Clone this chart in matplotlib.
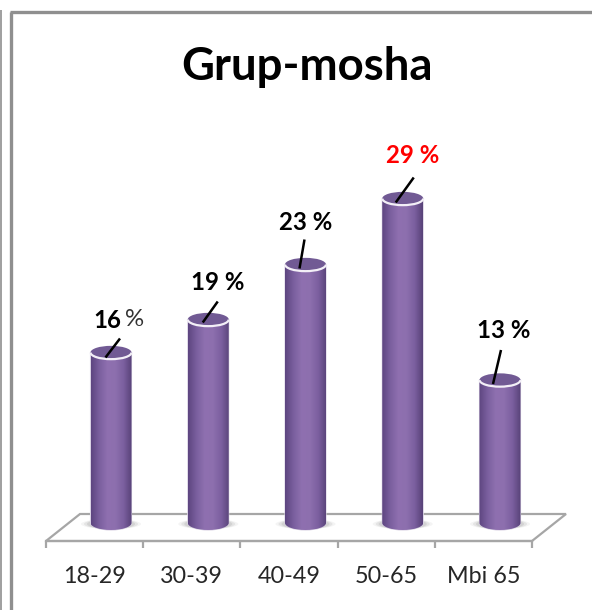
import numpy as np
import matplotlib
matplotlib.use("Agg")
import matplotlib.pyplot as plt
from matplotlib.patches import Ellipse, PathPatch, Polygon, Arc
from matplotlib.path import Path
from matplotlib.colors import LinearSegmentedColormap

title = "Grup-mosha"
categories = ["18-29", "30-39", "40-49", "50-65", "Mbi 65"]
bar_heights = [15.5, 18.5, 23.5, 29.5, 13.0]
label_numbers = ["16", "19", "23", "29", "13"]

W, H = 592, 610
FONT = "Lato"
fig = plt.figure(figsize=(W / 100, H / 100), dpi=100)
ax = fig.add_axes([0, 0, 1, 1])
X0, DX, Y0, DY = 94.5, 97.25, 523.0, 11.0
ax.set_xlim((0 - X0) / DX, (W - X0) / DX)
ax.set_ylim((Y0 - H) / DY, Y0 / DY)
ax.patch.set_alpha(0)

def px(x, y):
    return (x - X0) / DX, (Y0 - y) / DY

# axis: real ticks between categories
for s in ("left", "right", "top"):
    ax.spines[s].set_visible(False)
GREY = "#a6a6a6"
ax.spines["bottom"].set_position(("data", px(0, 541)[1]))
ax.spines["bottom"].set_bounds(-0.5, 4.5)
ax.spines["bottom"].set_color(GREY)
ax.spines["bottom"].set_linewidth(1.6)
ax.set_yticks([])
ax.set_xticks(range(len(categories)))
ax.set_xticklabels(categories, fontsize=16.8, family=FONT, color="#262626")
ax.set_xticks(np.arange(-0.5, 5, 1), minor=True)
ax.tick_params(axis="x", which="major", length=0, pad=18)
ax.tick_params(axis="x", which="minor", length=5, width=1.6, color=GREY)

# floor
floor = [px(46, 541), px(80, 514), px(566, 514), px(532, 541)]
ax.add_patch(Polygon(floor, closed=True, fc="white", ec=GREY, lw=1.6, zorder=1))

# window frame
frame = dict(color="#8f8f8f", solid_capstyle="butt", zorder=1)
ax.plot(*zip(px(10.5, 12), px(10.5, 610)), lw=2.4, **frame)
ax.plot(*zip(px(9.5, 11.5), px(592, 11.5)), lw=2.4, **frame)
ax.plot(*zip(px(0.5, 10), px(0.5, 610)), lw=1.2, **frame)

# cylinders
cmap = LinearSegmentedColormap.from_list(
    "cyl", ["#5d4580", "#7a5f9e", "#8f70b0", "#8d6fae", "#7b5f9f", "#584278"])
grad = np.linspace(0, 1, 128).reshape(1, -1)
offset = 16.5 / DX
hw = 20.5 / DX
eh = 7.0 / DY
KAPPA = 0.5523
for i, h in enumerate(bar_heights):
    c = i + offset
    # soft shadow on the floor
    for k, a in ((30, .08), (27, .12), (24, .16)):
        ax.add_patch(Ellipse((c, px(0, 524)[1]), 2 * k / DX, 10 / DY, fc="#777777",
                             ec="none", alpha=a, zorder=2))
    verts = [(c - hw, h), (c - hw, 0),
             (c - hw, -eh * KAPPA), (c - hw * KAPPA, -eh), (c, -eh),
             (c + hw * KAPPA, -eh), (c + hw, -eh * KAPPA), (c + hw, 0),
             (c + hw, h), (c - hw, h)]
    codes = [Path.MOVETO, Path.LINETO, Path.CURVE4, Path.CURVE4, Path.CURVE4,
             Path.CURVE4, Path.CURVE4, Path.CURVE4, Path.LINETO, Path.CLOSEPOLY]
    body = PathPatch(Path(verts, codes), fc="none", ec="#d9d2e3", lw=0.8, zorder=3)
    ax.add_patch(body)
    im = ax.imshow(grad, cmap=cmap, aspect="auto", zorder=3, interpolation="bilinear",
                   extent=(c - hw, c + hw, -eh - 0.1, h))
    im.set_clip_path(body)
    ax.add_patch(Ellipse((c, h), 2 * hw, 2 * eh * 0.95, fc="#715a94", ec="none", zorder=4))
    ax.add_patch(Arc((c, h), 2 * hw, 2 * eh * 0.95, theta1=180, theta2=360,
                     ec="#f3eff7", lw=1.6, zorder=5))
ax.set_xlim((0 - X0) / DX, (W - X0) / DX)
ax.set_ylim((Y0 - H) / DY, Y0 / DY)

# data labels with leader lines (pixel offsets from the top of each cylinder)
leader_start = [(-5.5, -5), (-5.5, -3), (-6, -4), (-7, -4), (-7, -4)]
leader_end = [(9, 14), (9.5, 18), (-1, 25), (11, 21), (1, 30)]
label_pos = [(120, 320), (218, 282), (306, 222), (413, 156), (504, 331)]
label_col = ["black", "black", "black", "#ff0000", "black"]
for i, (h, num) in enumerate(zip(bar_heights, label_numbers)):
    c = i + offset
    x0, y0 = leader_start[i]
    x1, y1 = leader_end[i]
    ax.plot([c + x0 / DX, c + x1 / DX], [h + y0 / DY, h + y1 / DY], color="black",
            lw=1.8, solid_capstyle="butt", zorder=6)
    lx, ly = px(*label_pos[i])
    if i == 0:
        ax.text(lx + 1 / DX, ly, num, ha="right", va="center", fontsize=17.3, fontweight="bold",
                family=FONT, color=label_col[i], zorder=7)
        ax.text(lx + 5 / DX, ly, "%", ha="left", va="center", fontsize=17.3,
                family=FONT, color="#333333", zorder=7)
    else:
        ax.text(lx, ly, f"{num} %", ha="center", va="center", fontsize=17.3, fontweight="bold",
                family=FONT, color=label_col[i], zorder=7)

ax.text(*px(307, 67), title, ha="center", va="center", fontsize=32.8, fontweight="bold",
        family=FONT, color="black", zorder=7)

fig.savefig("out.png", dpi=100, facecolor="white")
